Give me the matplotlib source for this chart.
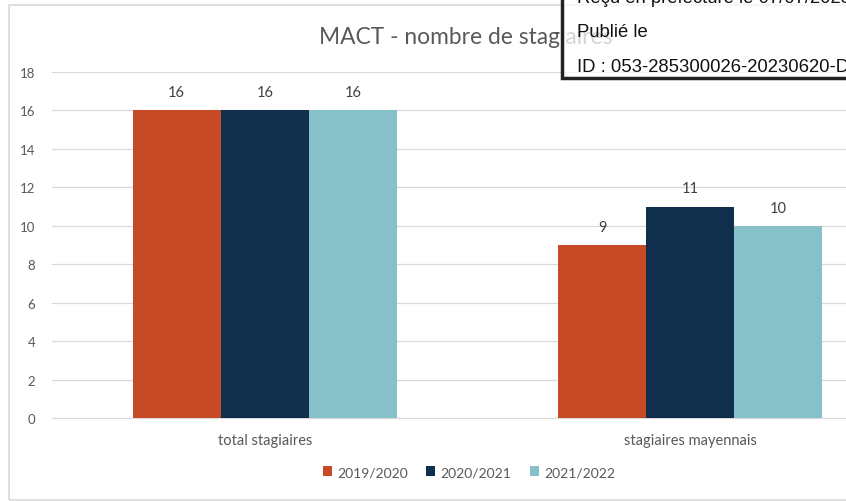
import matplotlib.pyplot as plt
from matplotlib.patches import Rectangle
import numpy as np

W, H = 846, 502

categories = ["total stagiaires", "stagiaires mayennais"]
seasons = ["2019/2020", "2020/2021", "2021/2022"]
values = {
    "2019/2020": [16, 9],
    "2020/2021": [16, 11],
    "2021/2022": [16, 10],
}
colors = ["#c54a25", "#0f2f4c", "#86c0c9"]
stamp_lines = ["Reçu en préfecture le 07/07/2023", "Publié le", "ID : 053-285300026-20230620-D"]

grey = "#595959"
plt.rcParams["font.family"] = ["Lato", "DejaVu Sans"]


def fx(px):
    return px / W


def fy(py):
    return 1 - py / H


fig = plt.figure(figsize=(W / 100, H / 100), dpi=100)

# chart frame (runs off the right edge like the screenshot)
fig.patches.append(Rectangle((fx(9), fy(501)), fx(1000), fy(6) - fy(501),
                             transform=fig.transFigure, fill=False,
                             edgecolor="#d9d9d9", lw=1.2))

ax = fig.add_axes([fx(52), fy(419), fx(903 - 52), fy(73) - fy(419)])
x = np.arange(len(categories))
bw = 0.207
for i, s in enumerate(seasons):
    bars = ax.bar(x + (i - 1) * bw, values[s], bw, color=colors[i], label=s, zorder=3)
    ax.bar_label(bars, padding=8, fontsize=10.5, color="#404040")

ax.set_xlim(-0.5, 1.5)
ax.set_ylim(0, 18)
ax.set_yticks(range(0, 19, 2))
ax.set_xticks(x)
ax.set_xticklabels(categories)
ax.yaxis.grid(True, color="#d9d9d9", lw=0.9, zorder=0)
for sp in ax.spines.values():
    sp.set_visible(False)
ax.spines["bottom"].set_visible(True)
ax.spines["bottom"].set_color("#d9d9d9")
ax.tick_params(axis="both", length=0, labelcolor=grey)
ax.tick_params(axis="y", pad=12, labelsize=9.5)
ax.tick_params(axis="x", pad=11, labelsize=10.5)

fig.text(fx(466), fy(38), "MACT - nombre de stagiaires", ha="center", va="center",
         fontsize=16.4, color=grey)

handles, labels = ax.get_legend_handles_labels()
fig.legend(handles, labels, loc="center", bbox_to_anchor=(fx(469), fy(473)), ncol=3,
           frameon=False, fontsize=10, labelcolor=grey, handlelength=0.65,
           handleheight=0.65, handletextpad=0.4, columnspacing=1.3)

# préfecture stamp laid over the chart
fig.patches.append(Rectangle((fx(562), fy(79)), fx(400), fy(-20) - fy(79),
                             transform=fig.transFigure, facecolor=(1, 1, 1, 0.75),
                             edgecolor="#222222", lw=2.5, zorder=10))
for line, base in zip(stamp_lines, [3, 37, 72]):
    fig.text(fx(577), fy(base), line, ha="left", va="baseline", fontsize=13.3,
             family=["Liberation Sans"], color="#111111", zorder=11)

fig.savefig("out.png", dpi=100)
